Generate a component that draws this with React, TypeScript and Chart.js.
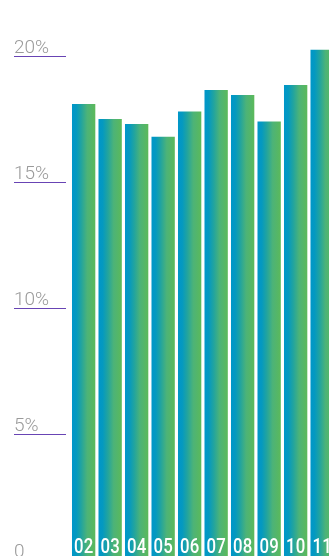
import React, { useEffect, useRef } from "react";
import { Chart, registerables } from "chart.js";

Chart.register(...registerables);

// Yearly share, in percent
const years = ["02", "03", "04", "05", "06", "07", "08", "09", "10", "11"];
const shares = [18.1, 17.5, 17.3, 16.8, 17.8, 18.65, 18.45, 17.4, 18.85, 20.25];
const tickValues = [0, 5, 10, 15, 20];
const tickLabels = ["0", "5%", "10%", "15%", "20%"];

const BLUE = "#0096c9";
const TEAL = "#22a49e";
const GREEN = "#5cb95a";

// Short underlined value markers on the left, positioned through the y scale
const leftAxisPlugin = {
  id: "leftAxis",
  afterDraw(chart: any) {
    const { ctx } = chart;
    const y = chart.scales.y;
    ctx.save();
    tickValues.forEach((v, i) => {
      const py = Math.round(y.getPixelForValue(v)) + 0.5;
      ctx.strokeStyle = "#6844b4";
      ctx.lineWidth = 1;
      ctx.beginPath();
      ctx.moveTo(14, py);
      ctx.lineTo(66, py);
      ctx.stroke();
      ctx.fillStyle = "#9a9a9a";
      ctx.font = "300 19px Roboto";
      ctx.textAlign = "left";
      ctx.textBaseline = "alphabetic";
      ctx.fillText(tickLabels[i], 14, py - 4);
    });
    ctx.restore();
  },
};

// Year labels printed in white at the foot of each bar (narrowed Roboto)
const barLabelPlugin = {
  id: "barLabels",
  afterDatasetsDraw(chart: any) {
    const { ctx } = chart;
    const meta = chart.getDatasetMeta(0);
    meta.data.forEach((bar: any, i: number) => {
      ctx.save();
      ctx.translate(bar.x, 553);
      ctx.scale(0.84, 1);
      ctx.fillStyle = "#ffffff";
      ctx.font = "500 20px Roboto";
      ctx.textAlign = "center";
      ctx.textBaseline = "alphabetic";
      ctx.fillText(years[i], 0, 0);
      ctx.restore();
    });
  },
};

export default function App() {
  const canvasRef = useRef<HTMLCanvasElement | null>(null);

  useEffect(() => {
    const canvas = canvasRef.current;
    if (!canvas) return;
    const chart = new Chart(canvas, {
      type: "bar",
      data: {
        labels: years,
        datasets: [
          {
            data: shares,
            borderWidth: 0,
            backgroundColor: (context: any) => {
              const c = context.chart;
              if (!c.chartArea) return BLUE;
              const x = c.scales.x;
              const center = x.getPixelForValue(context.dataIndex);
              const half = (x.width / years.length) * 0.88 / 2;
              const g = c.ctx.createLinearGradient(center - half, 0, center + half, 0);
              g.addColorStop(0, BLUE);
              g.addColorStop(0.18, "#0499c0");
              g.addColorStop(0.4, TEAL);
              g.addColorStop(0.65, "#4cb378");
              g.addColorStop(1, GREEN);
              return g;
            },
          },
        ],
      },
      options: {
        animation: false,
        responsive: false,
        maintainAspectRatio: false,
        layout: { padding: { left: 70.4, right: 9.6, top: 5.6, bottom: 20 } },
        plugins: { legend: { display: false }, tooltip: { enabled: false } },
        scales: {
          x: {
            display: false,
            grid: { display: false },
          },
          y: {
            display: false,
            min: 0,
            max: 22,
          },
        },
        datasets: {
          bar: { categoryPercentage: 1, barPercentage: 0.88 },
        },
      } as any,
      plugins: [leftAxisPlugin, barLabelPlugin],
    });
    return () => chart.destroy();
  }, []);

  return (
    <div
      style={{
        position: "fixed",
        left: 0,
        top: 0,
        width: 329,
        height: 556,
        overflow: "hidden",
        background: "#ffffff",
      }}
    >
      <canvas ref={canvasRef} width={345} height={580} style={{ display: "block" }} />
    </div>
  );
}
